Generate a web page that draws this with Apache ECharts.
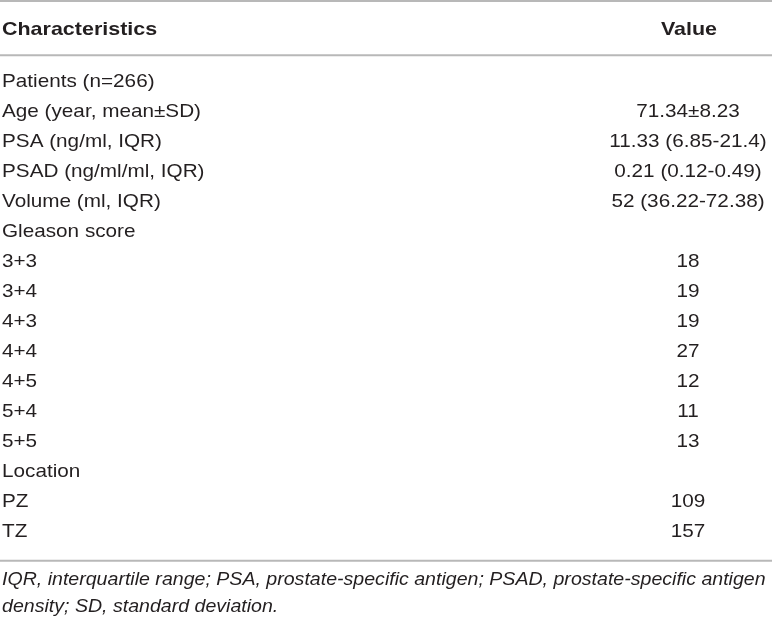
<!DOCTYPE html>
<html>
<head>
<meta charset="utf-8">
<script src="https://cdn.jsdelivr.net/npm/echarts@6/dist/echarts.min.js"></script>
<style>
  html, body { margin: 0; padding: 0; background: #fff; }
  #chart { width: 772px; height: 622px; }
</style>
</head>
<body>
<div id="chart"></div>
<script>
// table content
const headers = ['Characteristics', 'Value'];
const characteristics = [
  'Patients (n=266)',
  'Age (year, mean±SD)',
  'PSA (ng/ml, IQR)',
  'PSAD (ng/ml/ml, IQR)',
  'Volume (ml, IQR)',
  'Gleason score',
  '3+3',
  '3+4',
  '4+3',
  '4+4',
  '4+5',
  '5+4',
  '5+5',
  'Location',
  'PZ',
  'TZ'
];
const values = [
  '',
  '71.34±8.23',
  '11.33 (6.85-21.4)',
  '0.21 (0.12-0.49)',
  '52 (36.22-72.38)',
  '',
  '18',
  '19',
  '19',
  '27',
  '12',
  '11',
  '13',
  '',
  '109',
  '157'
];
const footnote = [
  'IQR, interquartile range; PSA, prostate-specific antigen; PSAD, prostate-specific antigen',
  'density; SD, standard deviation.'
];

const FONT = '"Liberation Sans", Arial, Helvetica, sans-serif';
const TEXT_COLOR = '#231f20';
const RULE_COLOR = '#b8b8b8';
const FONT_SIZE = 19;
const STRETCH = 1.09;
const LEFT_X = 2;
const VALUE_X = 688;

const chart = echarts.init(document.getElementById('chart'), null, { renderer: 'canvas' });

function cellText(x, y, text, align) {
  return {
    type: 'text',
    x: x,
    y: y,
    scaleX: STRETCH,
    style: {
      text: text,
      fontFamily: FONT,
      fontSize: FONT_SIZE,
      fill: TEXT_COLOR,
      align: align,
      verticalAlign: 'middle'
    }
  };
}

function renderRow(params, api) {
  const i = api.value(0);
  const left = api.coord([LEFT_X, i]);
  const mid = api.coord([VALUE_X, i]);
  return {
    type: 'group',
    children: [
      cellText(left[0], left[1], characteristics[i], 'left'),
      cellText(mid[0], mid[1], values[i], 'center')
    ]
  };
}

function rule(y) {
  return {
    type: 'line',
    shape: { x1: 0, y1: y, x2: 772, y2: y },
    style: { stroke: RULE_COLOR, lineWidth: 2 },
    silent: true
  };
}

function note(y, text) {
  return {
    type: 'text', x: LEFT_X, y: y, scaleX: 1.03,
    style: { text: text, fontFamily: FONT, fontSize: FONT_SIZE, fontStyle: 'italic',
             fill: TEXT_COLOR, align: 'left', verticalAlign: 'middle' }
  };
}

function head(x, text, align) {
  return {
    type: 'text', x: x, y: 29.3, scaleX: 1.13,
    style: { text: text, fontFamily: FONT, fontSize: FONT_SIZE, fontWeight: 'bold',
             fill: TEXT_COLOR, align: align, verticalAlign: 'middle' }
  };
}

chart.setOption({
  animation: false,
  backgroundColor: '#fff',
  grid: { left: 0, right: 0, top: 66.5, bottom: 75.5 },
  xAxis: { type: 'value', min: 0, max: 772, show: false },
  yAxis: {
    type: 'category',
    inverse: true,
    data: characteristics,
    show: false
  },
  series: [{
    type: 'custom',
    renderItem: renderRow,
    encode: { y: 0 },
    data: characteristics.map((_, i) => [i])
  }],
  graphic: [
    rule(1),
    rule(55.3),
    rule(560.7),
    head(LEFT_X, headers[0], 'left'),
    head(VALUE_X + 1, headers[1], 'center'),
    note(580, footnote[0]),
    note(606.5, footnote[1])
  ]
});

window.addEventListener('resize', () => chart.resize());
</script>
</body>
</html>
